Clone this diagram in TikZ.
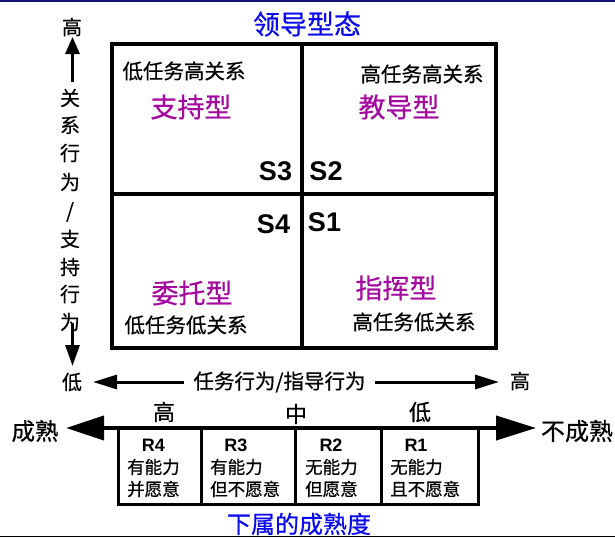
\documentclass[tikz,border=0pt]{standalone}
\usepackage{fontspec}
\setmainfont{Noto Sans CJK SC}[FakeBold=0.6]
\newfontfamily\latinbold{Liberation Sans}[BoldFont={Liberation Sans Bold}]
\usetikzlibrary{arrows.meta}
\definecolor{titleblue}{RGB}{10,10,235}
\definecolor{stylemag}{RGB}{165,10,160}
\definecolor{navyline}{RGB}{20,20,110}
\tikzset{
  txt/.style={inner sep=0pt, font=\fontsize{#1}{#1}\selectfont},
  bluetitle/.style={inner sep=0pt, text=titleblue, font=\fontsize{#1}{#1}\selectfont},
  magtxt/.style={inner sep=0pt, text=stylemag, font=\fontsize{27}{27}\selectfont},
  slabel/.style={inner sep=0pt, font=\latinbold\bfseries\fontsize{27}{27}\selectfont},
  rlabel/.style={inner sep=0pt, font=\latinbold\bfseries\fontsize{18}{18}\selectfont},
  boxtxt/.style={inner sep=0pt, anchor=west, font=\fontsize{17.5}{17.5}\selectfont},
  gridline/.style={line width=3.5pt},
  tableline/.style={line width=3pt},
  axisarrow/.style={line width=3pt, -{Triangle[length=#1pt, width=14pt]}},
}
\begin{document}
\begin{tikzpicture}[x=1pt,y=-1pt]
\useasboundingbox (0,0) rectangle (615,538);
% frame lines
\draw[navyline, line width=1.5pt] (0,0.75) -- (615,0.75);
\draw[black, line width=1.5pt] (0,536.5) -- (615,536.5);
% title
\node[bluetitle=27] (title) at (307,24) {领导型态};
% grid
\draw[gridline] (112,44) rectangle (496,348);
\coordinate (gtop) at (302,44);
\coordinate (gbot) at (302,348);
\coordinate (gleft) at (112,194);
\coordinate (gright) at (496,194);
\draw[gridline] (gtop) -- (gbot);
\draw[gridline] (gleft) -- (gright);
% quadrant texts
\node[txt=20.5] (q3d) at (184,71) {低任务高关系};
\node[txt=20.5] (q2d) at (422,74) {高任务高关系};
\node[magtxt] (q3) at (191,107) {支持型};
\node[magtxt] (q2) at (399,107) {教导型};
\node[magtxt] (q4) at (192,293) {委托型};
\node[magtxt] (q1) at (396,288) {指挥型};
\node[txt=20.5] (q4d) at (186,325) {低任务低关系};
\node[txt=20.5] (q1d) at (414,322) {高任务低关系};
\node[slabel] (s3) at (275.5,171) {S3};
\node[slabel] (s2) at (326,171) {S2};
\node[slabel] (s4) at (273.5,224) {S4};
\node[slabel] (s1) at (324.5,222) {S1};
% vertical axis
\node[txt=20] (vhigh) at (72,27) {高};
\node[txt=20] (vlow) at (72,382) {低};
\coordinate (vupstart) at (72.5,82);
\coordinate (vuptip) at (72.5,37);
\draw[axisarrow=17] (vupstart) -- (vuptip);
\coordinate (vdnstart) at (72.5,323);
\coordinate (vdntip) at (72.5,366);
\draw[axisarrow=21] (vdnstart) -- (vdntip);
\foreach \ch/\yy [count=\i] in {关/98,系/125,行/153,为/182,{/}/212,支/239,持/267,行/294,为/322}{
  \node[txt=20] (vt\i) at (70,\yy) {\ch};
}
% horizontal axis
\node[txt=20.5] (htext) at (279.5,382) {任务行为/指导行为};
\node[txt=20] (hhigh) at (520,381) {高};
\coordinate (hlstart) at (184,382);
\coordinate (hltip) at (93,382);
\coordinate (hrstart) at (375,382);
\coordinate (hrtip) at (499,382);
\draw[axisarrow=24] (hlstart) -- (hltip);
\draw[axisarrow=24] (hrstart) -- (hrtip);
% maturity axis
\node[txt=22] (mhigh) at (164,412) {高};
\node[txt=22] (mmid) at (296,414) {中};
\node[txt=22] (mlow) at (420,412) {低};
\node[txt=23.5] (mat) at (35,431) {成熟};
\node[txt=24] (immat) at (577,431) {不成熟};
\coordinate (mleft) at (66,428);
\coordinate (mright) at (536,428);
\draw[line width=4pt, {Triangle[length=38pt, width=24pt]}-{Triangle[length=40pt, width=24pt]}] (mleft) -- (mright);
% table
\foreach \xx [count=\i] in {118,201,295,381,478}{
  \coordinate (tt\i) at (\xx,428);
  \coordinate (tb\i) at (\xx,506);
  \draw[tableline] (tt\i) -- (tb\i);
}
\coordinate (tbl) at (118,504);
\coordinate (tbr) at (478,504);
\draw[tableline] (tbl) -- (tbr);
% table texts
\node[rlabel] (r4) at (153.5,445) {R4};
\node[boxtxt] (r4a) at (127,467) {有能力};
\node[boxtxt] (r4b) at (127,489) {并愿意};
\node[rlabel] (r3) at (236,445) {R3};
\node[boxtxt] (r3a) at (210,467) {有能力};
\node[boxtxt] (r3b) at (210,489) {但不愿意};
\node[rlabel] (r2) at (331,445) {R2};
\node[boxtxt] (r2a) at (305,467) {无能力};
\node[boxtxt] (r2b) at (305,489) {但愿意};
\node[rlabel] (r1) at (416,445) {R1};
\node[boxtxt] (r1a) at (390,467) {无能力};
\node[boxtxt] (r1b) at (390,489) {且不愿意};
% bottom title
\node[bluetitle=24] (subtitle) at (299,524) {下属的成熟度};
\end{tikzpicture}
\end{document}
